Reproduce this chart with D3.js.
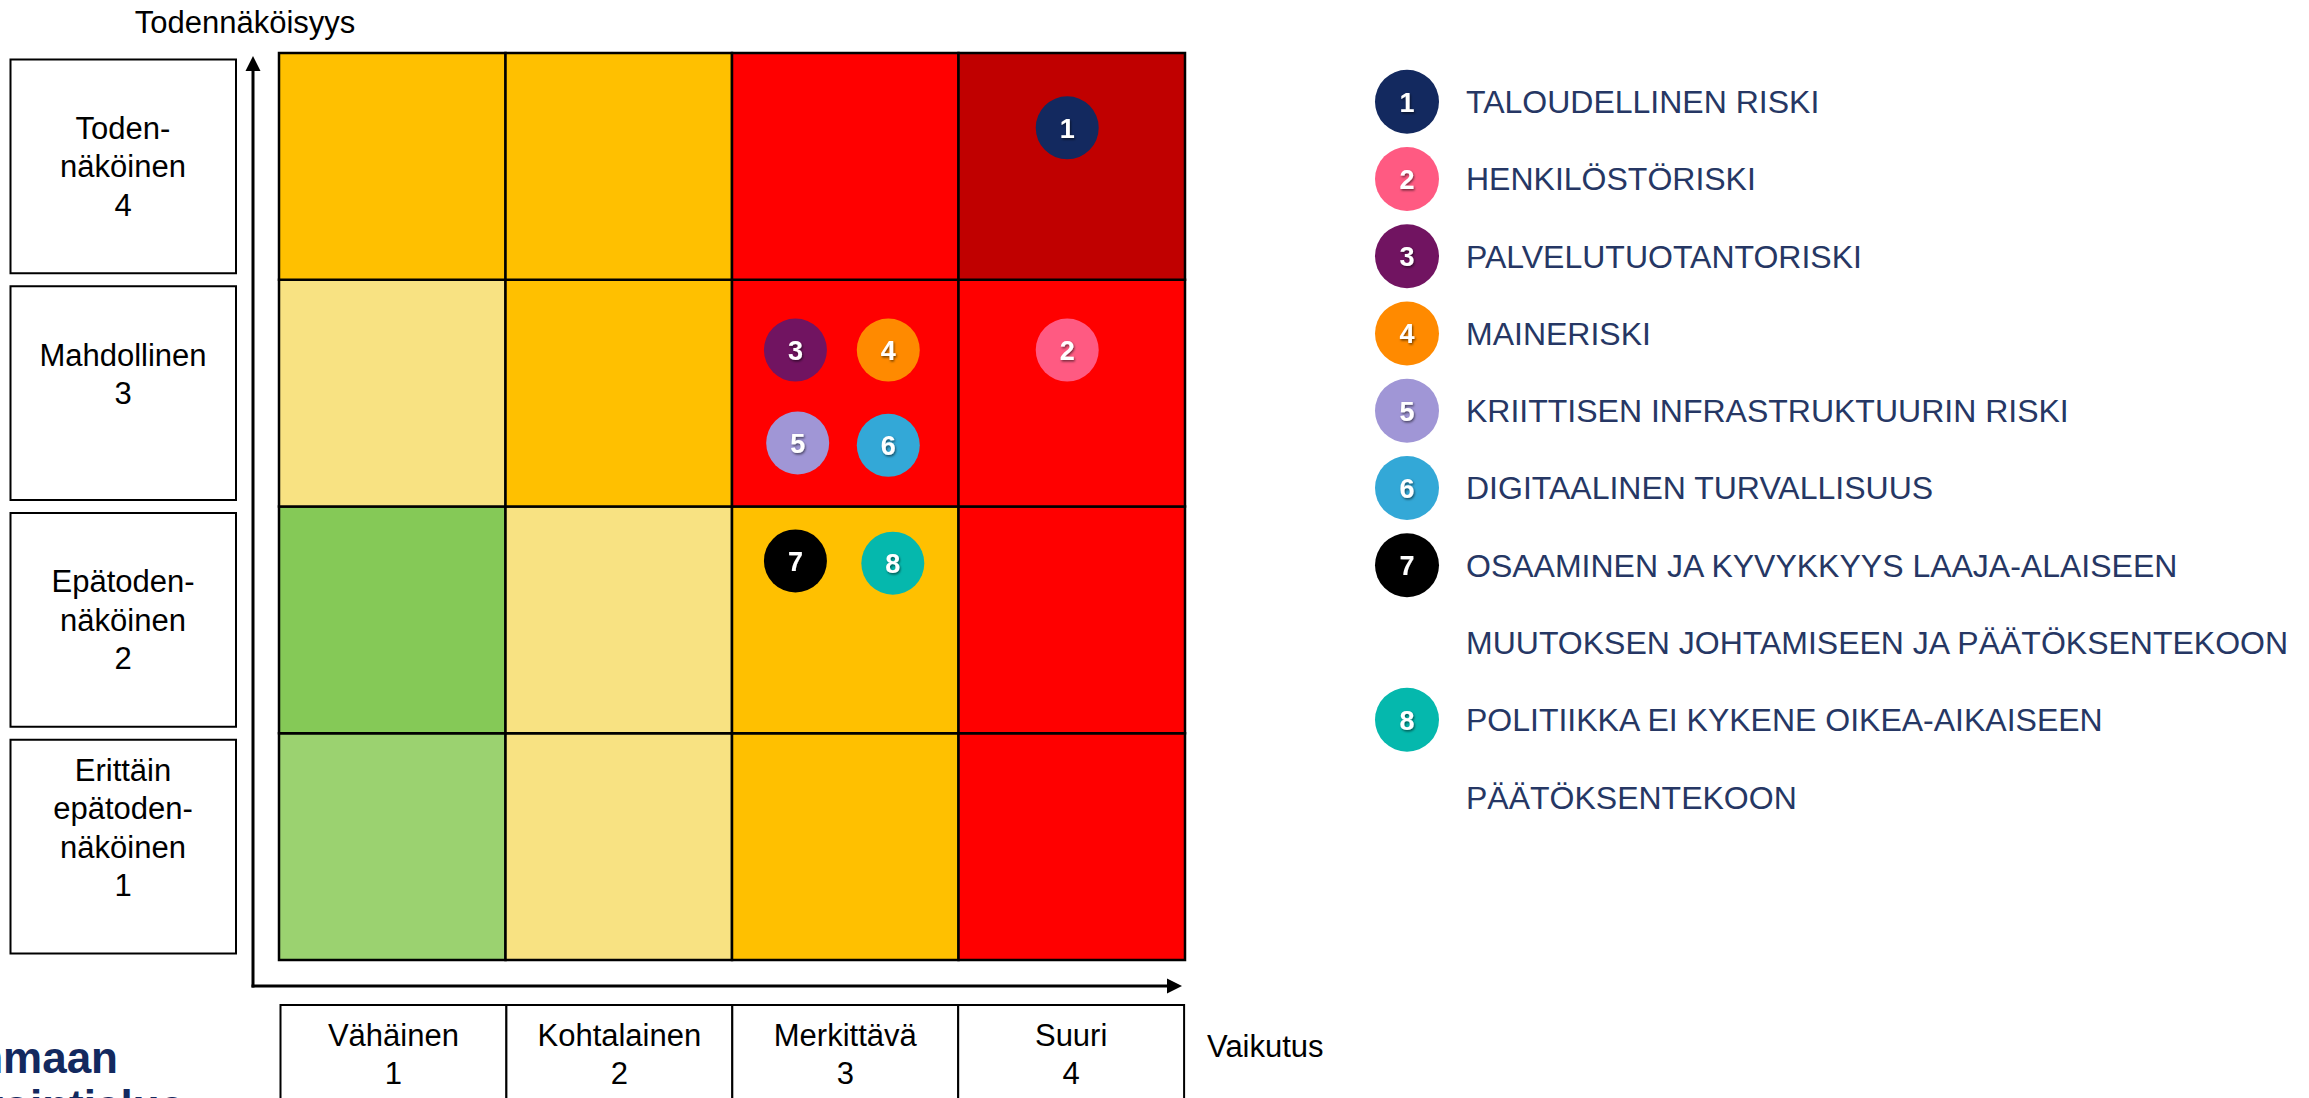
<!DOCTYPE html>
<html>
<head>
<meta charset="utf-8">
<script src="https://cdn.jsdelivr.net/npm/d3@7"></script>
<style>
  html, body { margin: 0; padding: 0; background: #ffffff; }
  svg { display: block; }
  text { font-family: "Liberation Sans", Arial, sans-serif; }
</style>
</head>
<body>
<svg id="chart" width="2309" height="1098"></svg>
<script>
// ---------- data ----------
const impactLevels = [1, 2, 3, 4];
const impactLabels = ["Vähäinen", "Kohtalainen", "Merkittävä", "Suuri"];
const likelihoodLevels = [1, 2, 3, 4];
const likelihoodLines = [
  ["Erittäin", "epätoden-", "näköinen", "1", ""],
  ["Epätoden-", "näköinen", "2"],
  ["Mahdollinen", "3", ""],
  ["Toden-", "näköinen", "4"]
];
// cell colours, one row per likelihood level (1..4), columns impact 1..4
const cellColorsL1 = ["#9bd270", "#f8e282", "#ffc000", "#ff0000"];
const cellColorsL2 = ["#85c957", "#f8e282", "#ffc000", "#ff0000"];
const cellColorsL3 = ["#f8e282", "#ffc000", "#ff0000", "#ff0000"];
const cellColorsL4 = ["#ffc000", "#ffc000", "#ff0000", "#c00000"];

const riskIds = [1, 2, 3, 4, 5, 6, 7, 8];
const riskImpact = [3.98, 3.98, 2.78, 3.19, 2.79, 3.19, 2.78, 3.21];
const riskLikelihood = [4.17, 3.19, 3.19, 3.19, 2.78, 2.77, 2.26, 2.25];
const riskColors = ["#13295f", "#ff5a82", "#711461", "#ff8a00", "#a096d6", "#33a8d7", "#000000", "#05b8ad"];
const riskNames = [
  ["TALOUDELLINEN RISKI"],
  ["HENKILÖSTÖRISKI"],
  ["PALVELUTUOTANTORISKI"],
  ["MAINERISKI"],
  ["KRIITTISEN INFRASTRUKTUURIN RISKI"],
  ["DIGITAALINEN TURVALLISUUS"],
  ["OSAAMINEN JA KYVYKKYYS LAAJA-ALAISEEN", "MUUTOKSEN JOHTAMISEEN JA PÄÄTÖKSENTEKOON"],
  ["POLITIIKKA EI KYKENE OIKEA-AIKAISEEN", "PÄÄTÖKSENTEKOON"]
];
const yAxisTitle = "Todennäköisyys";
const xAxisTitle = "Vaikutus";
const logoLines = ["Pirkanmaan", "hyvinvointialue"];

// ---------- setup ----------
const svg = d3.select("#chart");
const x = d3.scaleLinear().domain([0.5, 4.5]).range([279, 1185]);
const y = d3.scaleLinear().domain([0.5, 4.5]).range([960, 53]);
const unitX = x(1) - x(0);
const unitY = y(0) - y(1);

const defs = svg.append("defs");
const f = defs.append("filter").attr("id", "txtShadow").attr("x", "-50%").attr("y", "-50%").attr("width", "200%").attr("height", "200%");
f.append("feDropShadow").attr("dx", 1).attr("dy", 1.5).attr("stdDeviation", 0.8)
  .attr("flood-color", "#000").attr("flood-opacity", 0.55);

// ---------- grid cells ----------
const cellColors = [cellColorsL1, cellColorsL2, cellColorsL3, cellColorsL4];
const cells = [];
likelihoodLevels.forEach((l, li) => impactLevels.forEach((i, ii) => cells.push({ i, l, c: cellColors[li][ii] })));

svg.append("g").selectAll("rect").data(cells).join("rect")
  .attr("x", d => x(d.i - 0.5))
  .attr("y", d => y(d.l + 0.5))
  .attr("width", unitX)
  .attr("height", unitY)
  .attr("fill", d => d.c)
  .attr("stroke", "#000")
  .attr("stroke-width", 2.5);

// ---------- axes arrows ----------
const axisX0 = x(0.5) - 26;
const axisY0 = y(0.5) + 26;
const tipY = y(4.5) + 3;
const tipX = x(4.5) - 3;
const ax = svg.append("g").attr("fill", "#000");
ax.append("line").attr("x1", axisX0).attr("y1", axisY0 + 1.5).attr("x2", axisX0).attr("y2", tipY + 12)
  .attr("stroke", "#000").attr("stroke-width", 3);
ax.append("path").attr("d", `M${axisX0},${tipY} L${axisX0 - 7.5},${tipY + 15} L${axisX0 + 7.5},${tipY + 15} Z`);
ax.append("line").attr("x1", axisX0 - 1.5).attr("y1", axisY0).attr("x2", tipX - 12).attr("y2", axisY0)
  .attr("stroke", "#000").attr("stroke-width", 3);
ax.append("path").attr("d", `M${tipX},${axisY0} L${tipX - 15},${axisY0 - 7.5} L${tipX - 15},${axisY0 + 7.5} Z`);

// axis titles
svg.append("text").attr("x", 245).attr("y", 33).attr("text-anchor", "middle")
  .attr("font-size", 31).attr("fill", "#000").text(yAxisTitle);
svg.append("text").attr("x", 1207).attr("y", 1057).attr("text-anchor", "start")
  .attr("font-size", 31).attr("fill", "#000").text(xAxisTitle);

// ---------- likelihood label boxes ----------
const lineH = 38.5;
const lg = svg.append("g");
likelihoodLevels.forEach((l, li) => {
  const top = y(l + 0.5) + 6.5;
  const h = unitY - 13;
  lg.append("rect").attr("x", 10.5).attr("y", top).attr("width", 225.5).attr("height", h)
    .attr("fill", "#fff").attr("stroke", "#000").attr("stroke-width", 2);
  const lines = likelihoodLines[li];
  const cy = top + h / 2;
  const n = lines.length;
  lines.forEach((t, k) => {
    lg.append("text").attr("x", 123).attr("y", cy + (k - (n - 1) / 2) * lineH + 11)
      .attr("text-anchor", "middle").attr("font-size", 31).attr("fill", "#000").text(t);
  });
});

// ---------- impact label boxes ----------
const ig = svg.append("g");
impactLevels.forEach((i, ii) => {
  const left = x(i - 0.5) + 1.5 - ii * 0.6;
  ig.append("rect").attr("x", left).attr("y", 1005).attr("width", unitX - 0.6).attr("height", 130)
    .attr("fill", "#fff").attr("stroke", "#000").attr("stroke-width", 2);
  const cx = left + (unitX - 0.6) / 2;
  ig.append("text").attr("x", cx).attr("y", 1046).attr("text-anchor", "middle")
    .attr("font-size", 31).attr("fill", "#000").text(impactLabels[ii]);
  ig.append("text").attr("x", cx).attr("y", 1084).attr("text-anchor", "middle")
    .attr("font-size", 31).attr("fill", "#000").text(String(i));
});

// ---------- risk markers ----------
const risks = riskIds.map((id, k) => ({ id, imp: riskImpact[k], lik: riskLikelihood[k], color: riskColors[k] }));
const mg = svg.append("g").selectAll("g").data(risks).join("g")
  .attr("transform", d => `translate(${x(d.imp)},${y(d.lik)})`);
mg.append("circle").attr("r", 31.5).attr("fill", d => d.color);
mg.append("text").attr("text-anchor", "middle").attr("y", 10).attr("font-size", 27).attr("font-weight", "bold")
  .attr("fill", "#fff").attr("filter", "url(#txtShadow)").text(d => d.id);

// ---------- legend ----------
const legRow = d3.scaleLinear().domain([0, 9]).range([101.7, 797]);
let row = 0;
const leg = svg.append("g");
riskIds.forEach((id, k) => {
  const cy = legRow(row);
  leg.append("circle").attr("cx", 1407).attr("cy", cy).attr("r", 32).attr("fill", riskColors[k]);
  leg.append("text").attr("x", 1407).attr("y", cy + 10).attr("text-anchor", "middle").attr("font-size", 27)
    .attr("font-weight", "bold").attr("fill", "#fff").attr("filter", "url(#txtShadow)").text(id);
  riskNames[k].forEach((t, j) => {
    leg.append("text").attr("x", 1466).attr("y", legRow(row + j) + 11.5).attr("font-size", 32)
      .attr("fill", "#263764").text(t);
  });
  row += riskNames[k].length;
});

// ---------- logo (partially cut off) ----------
svg.append("text").attr("x", 118).attr("y", 1073).attr("text-anchor", "end").attr("font-size", 44)
  .attr("font-weight", "bold").attr("fill", "#13295f").text(logoLines[0]);
svg.append("text").attr("x", 184).attr("y", 1121).attr("text-anchor", "end").attr("font-size", 44)
  .attr("font-weight", "bold").attr("fill", "#13295f").text(logoLines[1]);
</script>
</body>
</html>
